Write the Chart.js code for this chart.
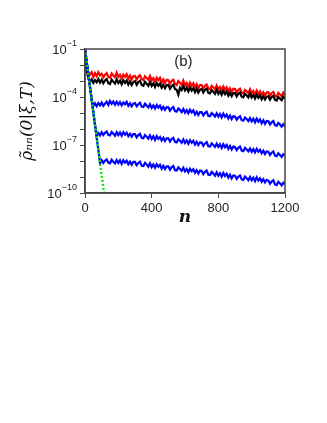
<!DOCTYPE html>
<html>
<head>
<meta charset="utf-8">
<script src="https://cdn.jsdelivr.net/npm/chart.js@4.4.0/dist/chart.umd.min.js"></script>
<style>
  html, body { margin: 0; padding: 0; background: #fff; }
  #wrap { width: 327px; height: 423px; background: #fff; }
</style>
</head>
<body>
<div id="wrap"><canvas id="rho" width="327" height="228"></canvas></div>
<script>
// n grid (step 10) and log10 of rho_nn for each curve
const nStep = 10;
const nVals = [];
for (let n = 0; n <= 1200; n += nStep) nVals.push(n);

const redLog = [
  -1.0, -2.0, -2.5, -2.6, -2.45, -2.75, -2.5, -2.7, -2.45, -2.65,
  -2.55, -2.77, -2.6, -2.5, -2.73, -2.8, -2.53, -2.66, -2.76, -2.48,
  -2.75, -2.62, -2.85, -2.6, -2.74, -2.58, -2.86, -2.66, -2.9, -2.7,
  -2.68, -2.9, -2.72, -2.64, -2.88, -2.95, -2.7, -2.82, -2.93, -2.68,
  -2.96, -2.82, -3.05, -2.8, -2.95, -2.8, -3.1, -2.9, -3.12, -2.92,
  -2.95, -3.17, -3.0, -2.92, -3.18, -3.25, -3.0, -3.12, -3.25, -2.98,
  -3.28, -3.12, -3.35, -3.1, -3.3, -3.15, -3.42, -3.2, -3.45, -3.25,
  -3.25, -3.47, -3.3, -3.22, -3.48, -3.52, -3.3, -3.4, -3.52, -3.28,
  -3.52, -3.38, -3.58, -3.35, -3.55, -3.4, -3.65, -3.46, -3.67, -3.48,
  -3.5, -3.72, -3.55, -3.48, -3.73, -3.77, -3.56, -3.64, -3.76, -3.52,
  -3.78, -3.62, -3.84, -3.6, -3.8, -3.64, -3.88, -3.7, -3.9, -3.72,
  -3.7, -3.92, -3.76, -3.68, -3.93, -3.97, -3.74, -3.84, -3.95, -3.72,
  -3.85
];
const blackLog = [
  -1.0, -2.3, -2.85, -3.05, -2.9, -3.12, -2.95, -3.08, -2.88, -3.1,
  -2.92, -3.14, -2.97, -2.88, -3.13, -3.18, -2.92, -3.05, -3.16, -2.9,
  -3.13, -2.98, -3.2, -2.95, -3.12, -2.97, -3.22, -3.03, -3.25, -3.06,
  -3.0, -3.24, -3.06, -2.98, -3.25, -3.3, -3.05, -3.17, -3.3, -3.05,
  -3.3, -3.14, -3.37, -3.12, -3.3, -3.16, -3.42, -3.24, -3.45, -3.26,
  -3.25, -3.48, -3.32, -3.24, -3.5, -3.55, -3.85, -3.42, -3.56, -3.32,
  -3.58, -3.42, -3.65, -3.4, -3.6, -3.44, -3.7, -3.5, -3.72, -3.54,
  -3.5, -3.72, -3.55, -3.48, -3.74, -3.78, -3.56, -3.67, -3.8, -3.55,
  -3.8, -3.64, -3.86, -3.62, -3.82, -3.66, -3.92, -3.73, -3.95, -3.76,
  -3.75, -3.97, -3.8, -3.72, -3.98, -4.02, -3.8, -3.9, -4.03, -3.78,
  -4.03, -3.87, -4.1, -3.85, -4.05, -3.89, -4.14, -3.96, -4.16, -3.98,
  -3.95, -4.17, -4.0, -3.93, -4.18, -4.22, -4.0, -4.1, -4.2, -3.98,
  -4.1
];
const blue1Log = [
  -1.0, -1.79, -2.58, -3.37, -4.16, -4.55, -4.4, -4.58, -4.38, -4.52,
  -4.35, -4.55, -4.42, -4.3, -4.5, -4.25, -4.42, -4.28, -4.48, -4.3,
  -4.48, -4.32, -4.52, -4.35, -4.45, -4.3, -4.55, -4.4, -4.58, -4.42,
  -4.38, -4.58, -4.45, -4.36, -4.6, -4.62, -4.42, -4.55, -4.65, -4.45,
  -4.68, -4.52, -4.72, -4.5, -4.66, -4.54, -4.78, -4.62, -4.8, -4.64,
  -4.65, -4.85, -4.7, -4.62, -4.88, -4.92, -4.72, -4.8, -4.95, -4.75,
  -4.98, -4.82, -5.02, -4.8, -4.96, -4.84, -5.1, -4.92, -5.12, -4.95,
  -4.95, -5.15, -5.0, -4.92, -5.18, -5.2, -5.0, -5.1, -5.22, -5.02,
  -5.22, -5.06, -5.28, -5.05, -5.24, -5.1, -5.34, -5.16, -5.38, -5.2,
  -5.22, -5.42, -5.28, -5.2, -5.45, -5.48, -5.28, -5.38, -5.5, -5.32,
  -5.52, -5.36, -5.58, -5.35, -5.54, -5.4, -5.64, -5.46, -5.68, -5.5,
  -5.52, -5.72, -5.58, -5.5, -5.76, -5.8, -5.62, -5.72, -5.85, -5.7,
  -5.85
];
const blue2Log = [
  -1.0, -1.79, -2.58, -3.37, -4.16, -4.95, -5.74, -6.42, -6.25, -6.4,
  -6.2, -6.38, -6.24, -6.15, -6.36, -6.4, -6.18, -6.3, -6.42, -6.2,
  -6.38, -6.22, -6.42, -6.2, -6.36, -6.24, -6.45, -6.3, -6.48, -6.32,
  -6.32, -6.52, -6.38, -6.3, -6.55, -6.58, -6.38, -6.48, -6.6, -6.4,
  -6.62, -6.46, -6.68, -6.45, -6.62, -6.5, -6.72, -6.55, -6.75, -6.58,
  -6.58, -6.78, -6.62, -6.55, -6.8, -6.84, -6.64, -6.74, -6.86, -6.66,
  -6.88, -6.72, -6.92, -6.7, -6.86, -6.74, -6.98, -6.8, -7.0, -6.84,
  -6.85, -7.05, -6.9, -6.82, -7.08, -7.1, -6.9, -7.0, -7.12, -6.92,
  -7.12, -6.96, -7.18, -6.95, -7.14, -7.0, -7.24, -7.06, -7.28, -7.1,
  -7.12, -7.32, -7.18, -7.1, -7.35, -7.38, -7.18, -7.28, -7.4, -7.22,
  -7.42, -7.26, -7.46, -7.24, -7.42, -7.3, -7.52, -7.36, -7.56, -7.4,
  -7.42, -7.62, -7.48, -7.4, -7.66, -7.7, -7.52, -7.62, -7.74, -7.58,
  -7.65
];
const blue3Log = [
  -1.0, -1.79, -2.58, -3.37, -4.16, -4.95, -5.74, -6.53, -7.32, -8.12,
  -7.95, -8.12, -7.98, -7.9, -8.1, -8.14, -7.92, -8.04, -8.15, -7.94,
  -8.12, -7.96, -8.18, -7.95, -8.1, -7.98, -8.2, -8.04, -8.24, -8.06,
  -8.06, -8.26, -8.12, -8.04, -8.3, -8.32, -8.12, -8.22, -8.35, -8.14,
  -8.38, -8.22, -8.42, -8.2, -8.36, -8.24, -8.48, -8.3, -8.5, -8.34,
  -8.34, -8.54, -8.4, -8.32, -8.58, -8.6, -8.4, -8.5, -8.62, -8.42,
  -8.65, -8.5, -8.7, -8.48, -8.64, -8.52, -8.74, -8.58, -8.78, -8.6,
  -8.62, -8.82, -8.68, -8.6, -8.86, -8.88, -8.68, -8.78, -8.92, -8.7,
  -8.92, -8.76, -8.98, -8.75, -8.94, -8.8, -9.04, -8.86, -9.08, -8.9,
  -8.92, -9.12, -8.98, -8.9, -9.15, -9.18, -8.98, -9.08, -9.2, -9.0,
  -9.2, -9.04, -9.26, -9.02, -9.22, -9.08, -9.3, -9.14, -9.34, -9.18,
  -9.22, -9.42, -9.28, -9.2, -9.46, -9.5, -9.3, -9.4, -9.52, -9.36,
  -9.45
];
// green dotted reference line (start, end)
const greenN = [0, 114];
const greenLog = [-1, -10];

const xTicks = [0, 400, 800, 1200];
const yLabelExps = [-1, -4, -7, -10];
const yMinorExps = [-1, -2, -3, -4, -5, -6, -7, -8, -9, -10];

const AXIS = '#454545';

function toPoints(ns, logs) {
  return logs.map((e, i) => ({ x: ns[i], y: Math.pow(10, e) }));
}

// frame, (b) label and y tick labels as 10^k
const decorPlugin = {
  id: 'decor',
  afterDraw(chart) {
    const { ctx, chartArea: a, scales } = chart;
    ctx.save();
    ctx.strokeStyle = AXIS;
    ctx.lineWidth = 1.5;
    ctx.strokeRect(a.left, a.top, a.right - a.left, a.bottom - a.top);

    ctx.fillStyle = '#222';
    ctx.font = '15px "Liberation Sans", Arial, sans-serif';
    ctx.textAlign = 'center';
    ctx.textBaseline = 'middle';
    ctx.fillText('(b)', scales.x.getPixelForValue(590), scales.y.getPixelForValue(Math.pow(10, -1.8)));

    yLabelExps.forEach(e => {
      const py = scales.y.getPixelForValue(Math.pow(10, e));
      const right = a.left - 8;
      ctx.font = '9px "Liberation Sans", Arial, sans-serif';
      const exp = '\u2212' + String(-e);
      const ew = ctx.measureText(exp).width;
      ctx.textAlign = 'right';
      ctx.textBaseline = 'middle';
      ctx.fillText(exp, right, py - 5);
      ctx.font = '13px "Liberation Sans", Arial, sans-serif';
      ctx.fillText('10', right - ew, py + 1);
    });
    ctx.restore();
  }
};

const lineStyle = { borderWidth: 2.2, pointRadius: 0 };

const ctx = document.getElementById('rho').getContext('2d');
const rhoChart = new Chart(ctx, {
  type: 'line',
  data: {
    datasets: [
      {
        data: toPoints(greenN, greenLog),
        borderColor: '#14e014',
        borderWidth: 2.5,
        borderDash: [2, 2],
        pointRadius: 0,
      },
      { data: toPoints(nVals, blue1Log), borderColor: '#0000ff', ...lineStyle },
      { data: toPoints(nVals, blue2Log), borderColor: '#0000ff', ...lineStyle },
      { data: toPoints(nVals, blue3Log), borderColor: '#0000ff', ...lineStyle },
      { data: toPoints(nVals, blackLog), borderColor: '#000000', ...lineStyle },
      { data: toPoints(nVals, redLog), borderColor: '#ff0000', ...lineStyle },
    ],
  },
  options: {
    responsive: false,
    animation: false,
    layout: { padding: { top: 49, right: 42, left: 0, bottom: 0 } },
    plugins: { legend: { display: false }, tooltip: { enabled: false } },
    elements: { line: { tension: 0 } },
    scales: {
      x: {
        type: 'linear',
        min: 0,
        max: 1200,
        afterBuildTicks: s => { s.ticks = xTicks.map(v => ({ value: v })); },
        afterFit: s => { s.height = 35; },
        ticks: {
          color: '#222',
          padding: 3,
          maxRotation: 0,
          callback: v => String(v),
          font: { family: '"Liberation Sans", Arial, sans-serif', size: 13 },
        },
        grid: { drawOnChartArea: false, tickLength: 5, color: AXIS, lineWidth: 1 },
        border: { color: AXIS, width: 1.5 },
        title: {
          display: true,
          text: 'n',
          color: '#111',
          padding: { top: 0, bottom: 0 },
          font: { family: '"DejaVu Serif", serif', size: 17, style: 'italic', weight: 'bold' },
        },
      },
      y: {
        type: 'logarithmic',
        min: 1e-10,
        max: 1e-1,
        afterBuildTicks: s => { s.ticks = yMinorExps.map(e => ({ value: Math.pow(10, e) })); },
        afterFit: s => { s.width = 85; },
        ticks: { display: false },
        grid: { drawOnChartArea: false, tickLength: 5, color: AXIS, lineWidth: 1 },
        border: { color: AXIS, width: 1.5 },
        title: {
          display: true,
          text: 'ρ\u0303\u2099\u2099(0|ξ,T)',
          color: '#111',
          padding: { top: 17, bottom: 0 },
          font: { family: '"DejaVu Serif", serif', size: 17, style: 'italic' },
        },
      },
    },
  },
  plugins: [decorPlugin],
});
</script>
</body>
</html>
